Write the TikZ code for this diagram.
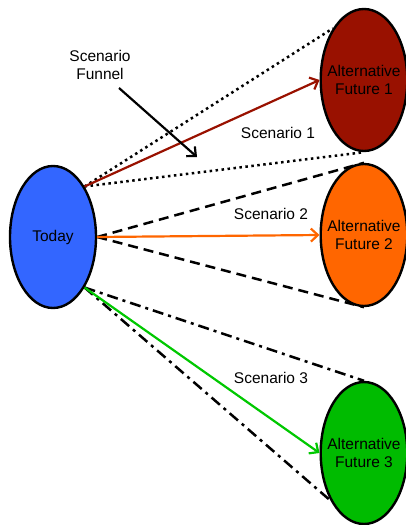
\documentclass[tikz,border=0pt]{standalone}
\usepackage{fontspec}
\setmainfont{Liberation Sans}
\usetikzlibrary{arrows.meta,shapes.geometric}
\definecolor{todayblue}{RGB}{51,102,255}
\definecolor{futred}{RGB}{153,17,0}
\definecolor{futorange}{RGB}{255,102,0}
\definecolor{futgreen}{RGB}{0,187,0}
\definecolor{pathgreen}{RGB}{0,200,0}
\tikzset{
>={Straight Barb[length=7pt,width=13pt]},
  today/.style={
    ellipse,
    draw=black, line width=2.4pt,
    fill=todayblue,
    minimum width=86pt,
    minimum height=142pt,
    font=\fontsize{15.5pt}{18pt}\selectfont},
  future/.style={
    ellipse,
    draw=black, line width=2.4pt,
    inner xsep=-6pt, inner ysep=0pt,
    minimum width=86pt,
    minimum height=142pt,
    align=center,
    font=\fontsize{15.5pt}{18pt}\selectfont},
  scentext/.style={align=center, font=\fontsize{15.5pt}{18pt}\selectfont},
  funnelA/.style={draw, line width=2.5pt, dash pattern=on 2.5pt off 3.5pt},
  funnelB/.style={draw, line width=2.5pt, dash pattern=on 10pt off 6pt},
  funnelC/.style={draw, line width=2.5pt, dash pattern=on 11pt off 5pt on 3pt off 5pt},
  path/.style={draw, ->, line width=2.2pt},
}

\begin{document}
\begin{tikzpicture}[x=1pt,y=-1pt]
  \useasboundingbox (0,0) rectangle (406,525);
  \node[today] (today) at (53,237) {Today};
  \node[future, fill=futred] (fut1) at (364,80) {Alternative\\Future 1};
  \node[future, fill=futorange] (fut2) at (364,235) {Alternative\\Future 2};
  \node[future, fill=futgreen] (fut3) at (364,453) {Alternative\\Future 3};
  %% Scenario 1
  \draw[funnelA] (today.58) -- (fut1.121);
  \draw[funnelA] (today.58) -- (fut1.south);
  \draw[path, futred] (today.58) -- (fut1.west);
  \node[scentext] (scen1) at (278,133) {Scenario 1};
  %% Scenario 2
  \draw[funnelB] (today.east) -- (fut2.north);
  \draw[funnelB] (today.east) -- (fut2.south);
  \draw[path, futorange] (today.east) -- (fut2.west);
  \node[scentext] (scen2) at (271,214) {Scenario 2};
  %% Scenario 3
  \draw[funnelC] (today.-58) -- (fut3.north);
  \draw[funnelC] (today.-58) -- (fut3.235);
  \draw[path, pathgreen] (today.-58) -- (fut3.west);
  \node[scentext] (scen3) at (271,378) {Scenario 3};
  %% the funnel
  \node[scentext] (funnel) at (100,65) {Scenario\\Funnel};
  \coordinate (funneltail) at (119,88);
  \coordinate (funneltip) at (197,157);
  \draw[path] (funneltail) -- (funneltip);
\end{tikzpicture}
\end{document}
